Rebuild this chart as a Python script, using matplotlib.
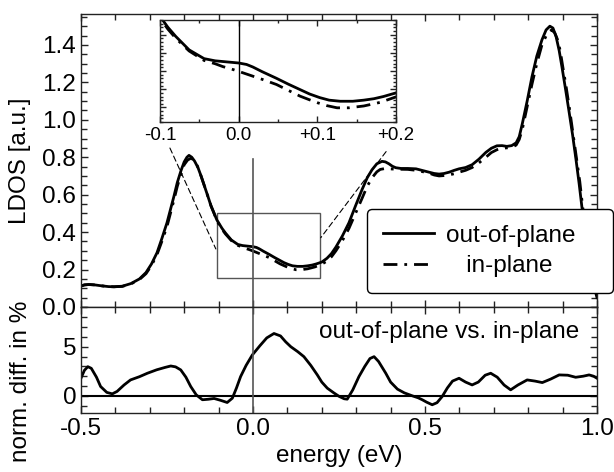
import numpy as np
import matplotlib.pyplot as plt
from matplotlib.patches import Rectangle, ConnectionPatch
from matplotlib.ticker import MultipleLocator

plt.rcParams["font.family"] = ["Liberation Sans", "DejaVu Sans"]
plt.rcParams["font.size"] = 17.5

# ── Data ──────────────────────────────────────────────────────────────────────

# LDOS, out-of-plane (solid)
e_out = [-0.50, -0.49, -0.477, -0.46, -0.44, -0.42, -0.404, -0.38, -0.355,
         -0.33, -0.311, -0.295, -0.279, -0.265, -0.25, -0.24, -0.23, -0.22,
         -0.209, -0.20, -0.192, -0.186, -0.178, -0.17, -0.16, -0.151, -0.14,
         -0.13, -0.122, -0.113, -0.105, -0.09, -0.08, -0.063, -0.044, -0.03,
         -0.02, -0.01, 0.0, 0.01, 0.018, 0.03, 0.048, 0.063, 0.078, 0.09,
         0.103, 0.115, 0.129, 0.145, 0.159, 0.172, 0.184, 0.20, 0.215, 0.228,
         0.241, 0.26, 0.279, 0.298, 0.317, 0.332, 0.346, 0.36, 0.375, 0.385,
         0.395, 0.405, 0.415, 0.43, 0.45, 0.474, 0.495, 0.512, 0.527, 0.541,
         0.555, 0.57, 0.585, 0.599, 0.618, 0.637, 0.657, 0.677, 0.693, 0.709,
         0.724, 0.738, 0.752, 0.765, 0.774, 0.783, 0.797, 0.811, 0.825, 0.84,
         0.852, 0.863, 0.872, 0.881, 0.89, 0.898, 0.908, 0.918, 0.929, 0.939,
         0.948, 0.956, 0.966, 0.975, 0.983, 0.99, 1.0]
ldos_out = [0.112, 0.118, 0.12, 0.118, 0.113, 0.109, 0.108, 0.111, 0.125,
            0.15, 0.184, 0.23, 0.29, 0.365, 0.45, 0.52, 0.59, 0.665,
            0.73, 0.775, 0.80, 0.81, 0.80, 0.78, 0.745, 0.70, 0.64,
            0.585, 0.54, 0.50, 0.465, 0.42, 0.395, 0.358, 0.334, 0.328,
            0.326, 0.324, 0.322, 0.318, 0.311, 0.298, 0.28, 0.264, 0.249, 0.237,
            0.227, 0.22, 0.217, 0.217, 0.22, 0.224, 0.23, 0.24, 0.26, 0.285,
            0.32, 0.38, 0.45, 0.54, 0.627, 0.69, 0.733, 0.765, 0.778, 0.775,
            0.765, 0.752, 0.744, 0.74, 0.74, 0.738, 0.728, 0.72, 0.713, 0.71,
            0.713, 0.72, 0.73, 0.738, 0.745, 0.76, 0.79, 0.826, 0.848, 0.861,
            0.862, 0.858, 0.862, 0.877, 0.91, 0.98, 1.10, 1.23, 1.34, 1.427,
            1.48, 1.50, 1.49, 1.445, 1.37, 1.284, 1.17, 1.053, 0.92, 0.787,
            0.66, 0.536, 0.41, 0.30, 0.20, 0.12, 0.05]

# LDOS, in-plane (dash-dot)
e_in = [-0.50, -0.49, -0.477, -0.46, -0.44, -0.42, -0.404, -0.38, -0.355,
        -0.33, -0.311, -0.295, -0.279, -0.265, -0.25, -0.24, -0.23, -0.22,
        -0.209, -0.20, -0.19, -0.18, -0.172, -0.165, -0.151, -0.14, -0.13,
        -0.122, -0.113, -0.105, -0.09, -0.08, -0.063, -0.044, -0.03, -0.02,
        -0.01, 0.0, 0.015, 0.03, 0.048, 0.063, 0.078, 0.09, 0.10, 0.112,
        0.125, 0.14, 0.159, 0.18, 0.20, 0.215, 0.228, 0.241, 0.26, 0.279,
        0.298, 0.317, 0.332, 0.346, 0.36, 0.37, 0.385, 0.395, 0.415, 0.45,
        0.474, 0.495, 0.512, 0.527, 0.541, 0.555, 0.57, 0.585, 0.599, 0.618,
        0.637, 0.657, 0.677, 0.693, 0.709, 0.724, 0.738, 0.752, 0.765, 0.774,
        0.783, 0.797, 0.811, 0.825, 0.84, 0.855, 0.868, 0.877, 0.885, 0.893,
        0.90, 0.91, 0.92, 0.93, 0.94, 0.95, 0.958, 0.967, 0.976, 0.983,
        0.99, 1.0]
ldos_in = [0.112, 0.118, 0.12, 0.118, 0.113, 0.109, 0.108, 0.11, 0.123,
           0.147, 0.178, 0.222, 0.28, 0.35, 0.43, 0.50, 0.57, 0.645,
           0.71, 0.76, 0.785, 0.795, 0.785, 0.77, 0.70, 0.64, 0.585,
           0.54, 0.50, 0.46, 0.415, 0.39, 0.355, 0.329, 0.32, 0.312,
           0.306, 0.299, 0.288, 0.277, 0.263, 0.247, 0.231, 0.221, 0.213, 0.205,
           0.199, 0.199, 0.204, 0.214, 0.229, 0.245, 0.268, 0.30, 0.355, 0.42,
           0.50, 0.58, 0.645, 0.69, 0.722, 0.735, 0.74, 0.738, 0.736, 0.735,
           0.73, 0.722, 0.715, 0.705, 0.70, 0.702, 0.705, 0.712, 0.72, 0.73,
           0.745, 0.77, 0.80, 0.825, 0.84, 0.848, 0.85, 0.852, 0.865, 0.895,
           0.95, 1.07, 1.19, 1.30, 1.40, 1.46, 1.48, 1.465, 1.43, 1.37,
           1.29, 1.18, 1.06, 0.93, 0.80, 0.67, 0.54, 0.42, 0.30, 0.20,
           0.12, 0.05]

# normalised difference in %
e_diff = [-0.50, -0.49, -0.48, -0.47, -0.455, -0.443, -0.425, -0.409, -0.395,
          -0.375, -0.356, -0.33, -0.307, -0.28, -0.255, -0.239, -0.225, -0.21,
          -0.195, -0.181, -0.165, -0.147, -0.13, -0.113, -0.095, -0.075, -0.06,
          -0.048, -0.036, -0.02, -0.002, 0.02, 0.04, 0.061, 0.08, 0.095,
          0.11, 0.13, 0.148, 0.168, 0.187, 0.20, 0.216, 0.235, 0.25, 0.265,
          0.274, 0.29, 0.308, 0.325, 0.34, 0.352, 0.365, 0.386, 0.40, 0.42,
          0.44, 0.463, 0.48, 0.492, 0.505, 0.521, 0.535, 0.55, 0.565, 0.58,
          0.599, 0.618, 0.637, 0.655, 0.675, 0.691, 0.71, 0.73, 0.749, 0.77,
          0.797, 0.82, 0.841, 0.865, 0.89, 0.915, 0.938, 0.96, 0.977, 0.99,
          1.0]
diff = [1.8, 2.6, 2.97, 2.8, 1.9, 0.95, 0.35, 0.2, 0.45,
        1.1, 1.62, 1.95, 2.3, 2.65, 2.9, 3.04, 2.95, 2.64,
        1.9, 0.95, 0.1, -0.4, -0.35, -0.27, -0.45, -0.68, -0.24,
        0.8, 1.96, 3.1, 4.16, 5.1, 5.9, 6.35, 6.1, 5.5,
        5.0, 4.5, 3.99, 3.1, 2.13, 1.4, 0.78, 0.3, -0.05, -0.3,
        -0.34, 0.6, 1.96, 3.0, 3.8, 3.99, 3.5, 2.3, 1.4, 0.68,
        0.3, 0.0, -0.2, -0.4, -0.65, -0.91, -0.7, -0.07, 0.8, 1.5,
        1.79, 1.4, 1.11, 1.4, 2.1, 2.3, 1.9, 1.1, 0.61, 1.1,
        1.62, 1.5, 1.35, 1.7, 2.13, 2.1, 1.89, 2.0, 2.13, 2.0,
        1.79]

LDOS_TICKS = [0.0, 0.2, 0.4, 0.6, 0.8, 1.0, 1.2, 1.4]
INSET_XTICKS = [-0.1, 0.0, 0.1, 0.2]
INSET_XLABELS = ["-0.1", "0.0", "+0.1", "+0.2"]
ZOOM_BOX = (-0.105, 0.155, 0.30, 0.345)   # x0, y0, width, height

DASHDOT = (0, (5, 2.5, 1, 2.5))
SPINE = "#222222"
LW = 2.0


def style_axes(ax, lw=1.0):
    for sp in ax.spines.values():
        sp.set_linewidth(lw)
        sp.set_color(SPINE)
    ax.tick_params(which="both", direction="in", top=True, right=True,
                   color=SPINE, width=1.0)
    ax.tick_params(which="major", length=5)
    ax.tick_params(which="minor", length=4)


# ── Figure ────────────────────────────────────────────────────────────────────

fig = plt.figure(figsize=(6.14, 4.72), dpi=100)
ax1 = fig.add_axes([0.1319, 0.3496, 0.8404, 0.6207])
ax2 = fig.add_axes([0.1319, 0.1250, 0.8404, 0.2246], sharex=ax1)

# upper panel
ax1.plot(e_out, ldos_out, color="black", lw=LW, label="out-of-plane")
ax1.plot(e_in, ldos_in, color="black", lw=LW, ls=DASHDOT, label="   in-plane")
ax1.plot([0, 0], [0, 0.79], color="#555555", lw=1.2)
ax1.add_patch(Rectangle(ZOOM_BOX[:2], ZOOM_BOX[2], ZOOM_BOX[3], fill=False,
                        edgecolor="#555555", lw=1.0))
ax1.set_xlim(-0.5, 1.0)
ax1.set_ylim(0.0, 1.565)
ax1.set_yticks(LDOS_TICKS)
ax1.set_yticklabels([f"{v:.1f}" for v in LDOS_TICKS])
ax1.yaxis.set_minor_locator(MultipleLocator(0.05))
ax1.xaxis.set_major_locator(MultipleLocator(0.5))
ax1.xaxis.set_minor_locator(MultipleLocator(0.1))
ax1.set_ylabel("LDOS [a.u.]")
ax1.yaxis.set_label_coords(-0.096, 0.5)
style_axes(ax1)
ax1.tick_params(labelbottom=False)

# lower panel
ax2.plot(e_diff, diff, color="black", lw=LW)
ax2.axhline(0, color="black", lw=1.5)
ax2.axvline(0, color="#555555", lw=1.2)
ax2.set_ylim(-1.75, 9.05)
ax2.set_yticks([0, 5])
ax2.yaxis.set_minor_locator(MultipleLocator(1))
ax2.set_xticks([-0.5, 0.0, 0.5, 1.0])
ax2.set_xticklabels(["-0.5", "0.0", "0.5", "1.0"])
ax2.xaxis.set_minor_locator(MultipleLocator(0.1))
ax2.set_xlabel("energy (eV)", labelpad=4)
ax2.set_ylabel("norm. diff. in %")
ax2.yaxis.set_label_coords(-0.094, 0.30)
ax2.text(0.965, 0.76, "out-of-plane vs. in-plane", transform=ax2.transAxes,
         ha="right", va="center")
style_axes(ax2)

# inset (zoom of the boxed region)
axi = fig.add_axes([0.2606, 0.7415, 0.3844, 0.2161])
axi.plot(e_out, ldos_out, color="black", lw=LW)
axi.plot(e_in, ldos_in, color="black", lw=LW, ls=DASHDOT)
axi.axvline(0, color="black", lw=1.0)
axi.set_xlim(-0.1, 0.2)
axi.set_ylim(0.16, 0.44)
axi.set_xticks(INSET_XTICKS)
axi.set_xticklabels(INSET_XLABELS, fontsize=13.5)
axi.xaxis.set_minor_locator(MultipleLocator(0.05))
axi.yaxis.set_major_locator(MultipleLocator(0.05))
axi.yaxis.set_minor_locator(MultipleLocator(0.01))
axi.tick_params(labelleft=False)
style_axes(axi)
axi.tick_params(which="major", length=4)
axi.tick_params(which="minor", length=2)

# dashed guide lines from inset to the box
for xa, ya, xb, yb in [(0.042, -0.255, -0.108, 0.31), (0.958, -0.29, 0.197, 0.37)]:
    con = ConnectionPatch(xyA=(xa, ya), coordsA=axi.transAxes,
                          xyB=(xb, yb), coordsB=ax1.transData,
                          color="black", lw=0.8, ls=(0, (5, 3)))
    fig.add_artist(con)

# legend
leg = fig.legend(loc="upper left", bbox_to_anchor=(0.598, 0.377, 0.400, 0.18),
                 bbox_transform=fig.transFigure, mode="expand", borderaxespad=0,
                 handlelength=2.1, handletextpad=0.5, labelspacing=0.35,
                 borderpad=0.65, fancybox=True, framealpha=1.0)
leg.get_frame().set_edgecolor("black")
leg.get_frame().set_linewidth(1.0)

fig.savefig("out.png", dpi=100)
